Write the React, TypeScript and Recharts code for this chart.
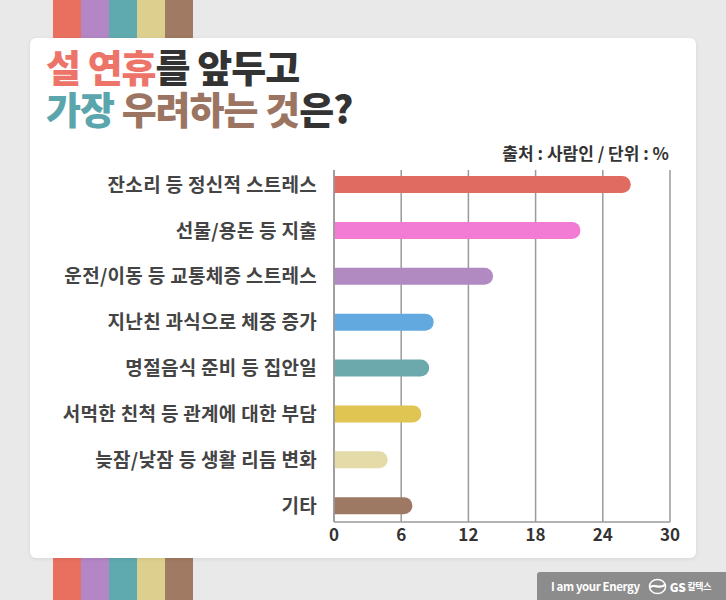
import React from 'react';
import { BarChart, Bar, XAxis, YAxis, CartesianGrid, Cell } from 'recharts';

const categories = [
  '잔소리 등 정신적 스트레스',
  '선물/용돈 등 지출',
  '운전/이동 등 교통체증 스트레스',
  '지난친 과식으로 체중 증가',
  '명절음식 준비 등 집안일',
  '서먹한 친척 등 관계에 대한 부담',
  '늦잠/낮잠 등 생활 리듬 변화',
  '기타',
];
const values = [26.5, 22.0, 14.2, 8.9, 8.5, 7.8, 4.8, 7.0];
const barColors = ['#DF6B61', '#F27BD3', '#B08AC1', '#62A9DF', '#6BA9AD', '#E0C552', '#E4DBA9', '#9D7964'];
const xTicks = [0, 6, 12, 18, 24, 30];
const stripeColors = ['#E9705F', '#B386C6', '#5FAAAF', '#DDD08F', '#A07A62'];

const data = categories.map((name, i) => ({ name, value: values[i] }));

const FONT = '"Noto Sans CJK KR", "Noto Sans", sans-serif';

const titleSpan = (color: string): React.CSSProperties => ({
  color,
  display: 'inline-block',
  height: 36,
  lineHeight: '36px',
  verticalAlign: 'top',
  overflow: 'visible',
});

export default function App() {
  return (
    <div style={{ position: 'absolute', left: 0, top: 0, width: 726, height: 600, background: '#E9E9E9', overflow: 'hidden', fontFamily: FONT }}>
      {/* top stripes */}
      <div style={{ position: 'absolute', left: 53, top: 0, display: 'flex' }}>
        {stripeColors.map((c) => (
          <div key={'t' + c} style={{ width: 28, height: 40, background: c }} />
        ))}
      </div>
      {/* bottom stripes */}
      <div style={{ position: 'absolute', left: 53, top: 555, display: 'flex' }}>
        {stripeColors.map((c) => (
          <div key={'b' + c} style={{ width: 28, height: 45, background: c }} />
        ))}
      </div>
      {/* card */}
      <div style={{ position: 'absolute', left: 30, top: 38, width: 666, height: 520, background: '#FFFFFF', borderRadius: 6, boxShadow: '0 1px 4px rgba(0,0,0,0.08)' }} />
      {/* title */}
      <div style={{ position: 'absolute', left: 46, top: 48, fontSize: 38, fontWeight: 900, lineHeight: '36px', height: 36, letterSpacing: -1, color: '#333333', whiteSpace: 'nowrap' }}>
        <span style={titleSpan('#EC7468')}>설 연휴</span>
        <span style={titleSpan('#333333')}>를 앞두고</span>
      </div>
      <div style={{ position: 'absolute', left: 46, top: 90, fontSize: 38, fontWeight: 900, lineHeight: '36px', height: 36, letterSpacing: -1, color: '#333333', whiteSpace: 'nowrap' }}>
        <span style={titleSpan('#5AA6AC')}>가장&nbsp;</span>
        <span style={titleSpan('#9B7562')}>우려하는 것</span>
        <span style={titleSpan('#333333')}>은?</span>
      </div>
      {/* source */}
      <div style={{ position: 'absolute', right: 57, top: 140, fontSize: 17, fontWeight: 700, color: '#333333', whiteSpace: 'nowrap' }}>
        출처 : 사람인 / 단위 : %
      </div>
      {/* chart */}
      <div style={{ position: 'absolute', left: 0, top: 0 }}>
        <BarChart
          width={726}
          height={600}
          data={data}
          layout="vertical"
          margin={{ top: 170, right: 56, bottom: 0, left: 0 }}
          barCategoryGap={0}
        >
          <CartesianGrid horizontal={false} vertical={true} stroke="#9A9A9A" strokeWidth={1.5} />
          <XAxis
            type="number"
            domain={[0, 30]}
            ticks={xTicks}
            interval={0}
            height={78}
            axisLine={{ stroke: '#9A9A9A', strokeWidth: 1.5 }}
            tickLine={false}
            tickSize={0}
            tickMargin={7}
            tick={{ fill: '#333333', fontSize: 17, fontWeight: 700, fontFamily: FONT }}
          />
          <XAxis
            xAxisId="top"
            orientation="top"
            type="number"
            domain={[0, 30]}
            height={0}
            tick={false}
            tickLine={false}
            axisLine={{ stroke: '#9A9A9A', strokeWidth: 1.5 }}
          />
          <YAxis
            type="category"
            dataKey="name"
            width={334}
            padding={{ top: -8, bottom: -7 }}
            axisLine={{ stroke: '#9A9A9A', strokeWidth: 1.5 }}
            tickLine={false}
            tickSize={0}
            tickMargin={17}
            interval={0}
            tick={{ fill: '#444444', fontSize: 19, fontWeight: 700, fontFamily: FONT, letterSpacing: 0.3 }}
          />
          <Bar dataKey="value" barSize={17} radius={[0, 9, 9, 0]} isAnimationActive={false}>
            {data.map((d, i) => (
              <Cell key={d.name} fill={barColors[i]} />
            ))}
          </Bar>
        </BarChart>
      </div>
      {/* logo */}
      <div style={{ position: 'absolute', left: 537, top: 572, width: 189, height: 28, background: '#8C8C8C', borderTopLeftRadius: 3, display: 'flex', alignItems: 'center', color: '#FFFFFF', whiteSpace: 'nowrap' }}>
        <span style={{ marginLeft: 14, fontSize: 11.5, fontWeight: 700, letterSpacing: -0.4 }}>I am your Energy</span>
        <svg width={19} height={17} style={{ marginLeft: 8 }} viewBox="0 0 20 18">
          <ellipse cx={10} cy={9} rx={8.5} ry={7.5} fill="none" stroke="#FFFFFF" strokeWidth={1.6} />
          <path d="M2 10 C 6 5, 13 13, 18 7" fill="none" stroke="#FFFFFF" strokeWidth={2.4} />
        </svg>
        <span style={{ marginLeft: 3, fontSize: 12, fontWeight: 900, letterSpacing: -0.3 }}>GS</span>
        <span style={{ marginLeft: 2, fontSize: 9, fontWeight: 700, letterSpacing: -0.5 }}>칼텍스</span>
      </div>
    </div>
  );
}
